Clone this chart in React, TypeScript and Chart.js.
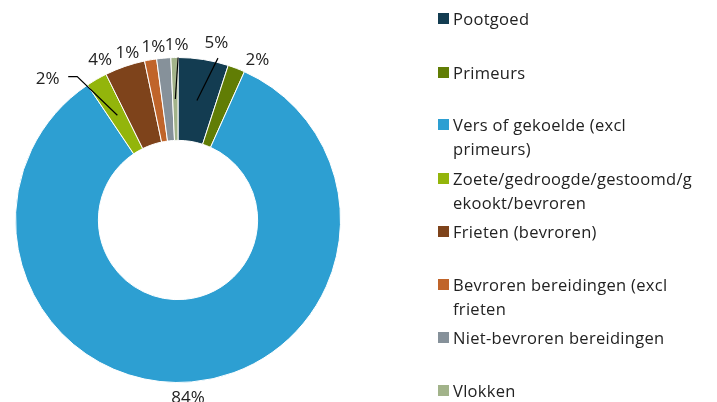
import React, { useEffect, useRef } from 'react';
import { Chart, registerables } from 'chart.js';

Chart.register(...registerables);

const categories = [
  'Pootgoed',
  'Primeurs',
  'Vers of gekoelde (excl primeurs)',
  'Zoete/gedroogde/gestoomd/gekookt/bevroren',
  'Frieten (bevroren)',
  'Bevroren bereidingen (excl frieten',
  'Niet-bevroren bereidingen',
  'Vlokken',
];
const values = [5.0, 1.7, 83.9, 2.1, 4.0, 1.2, 1.4, 0.7];
const percentLabels = ['5%', '2%', '84%', '2%', '4%', '1%', '1%', '1%'];
const legendLines = [
  ['Pootgoed'],
  ['Primeurs'],
  ['Vers of gekoelde (excl', 'primeurs)'],
  ['Zoete/gedroogde/gestoomd/g', 'ekookt/bevroren'],
  ['Frieten (bevroren)'],
  ['Bevroren bereidingen (excl', 'frieten'],
  ['Niet-bevroren bereidingen'],
  ['Vlokken'],
];
const colors = ['#133C51', '#617D05', '#2D9FD2', '#93B50B', '#7E431B', '#C0642A', '#86919A', '#A2B38A'];

// label placement: angular shift (deg) from slice middle, extra distance beyond outer radius, leader type
const labelPlacement = [
  { shift: 3.2, extra: 19.5, leader: 'up', lx: 1.5, ly: 16 },
  { shift: 5.2, extra: 17, leader: 'none', lx: 0, ly: 0 },
  { shift: 1.6, extra: 15, leader: 'none', lx: 0, ly: 0 },
  { shift: -12.4, extra: 30.5, leader: 'side', lx: 20.5, ly: -1 },
  { shift: -6.7, extra: 16.5, leader: 'none', lx: 0, ly: 0 },
  { shift: -7.0, extra: 13, leader: 'none', lx: 0, ly: 0 },
  { shift: -3.0, extra: 13.5, leader: 'none', lx: 0, ly: 0 },
  { shift: 0.8, extra: 13.5, leader: 'up', lx: 1.5, ly: 13.5 },
];
const legendCenters = [19, 73, 125, 179, 232, 285, 338, 391];

const FONT = '"Open Sans", sans-serif';

const pctPlugin = {
  id: 'pctLabels',
  afterDatasetsDraw(chart: any) {
    const ctx = chart.ctx;
    const meta = chart.getDatasetMeta(0);
    ctx.save();
    ctx.font = `17px ${FONT}`;
    ctx.fillStyle = '#222';
    ctx.strokeStyle = '#000';
    ctx.lineWidth = 1.2;
    ctx.textAlign = 'center';
    ctx.textBaseline = 'alphabetic';
    meta.data.forEach((arc: any, i: number) => {
      const p = arc.getProps(['x', 'y', 'startAngle', 'endAngle', 'innerRadius', 'outerRadius'], true);
      const mid = (p.startAngle + p.endAngle) / 2;
      const pl = labelPlacement[i];
      const a = mid + (pl.shift * Math.PI) / 180;
      const r = p.outerRadius + pl.extra;
      const cx = p.x + Math.cos(a) * r;
      const cy = p.y + Math.sin(a) * r;
      const rm = (p.innerRadius + p.outerRadius) / 2;
      const sx = p.x + Math.cos(mid) * rm;
      const sy = p.y + Math.sin(mid) * rm;
      if (pl.leader === 'up') {
        ctx.beginPath();
        ctx.moveTo(sx, sy);
        ctx.lineTo(cx + pl.lx, cy + pl.ly);
        ctx.stroke();
      } else if (pl.leader === 'side') {
        ctx.beginPath();
        ctx.moveTo(cx + pl.lx, cy + pl.ly);
        ctx.lineTo(cx + pl.lx + 9, cy + pl.ly);
        ctx.lineTo(sx, sy);
        ctx.stroke();
      }
      ctx.fillText(percentLabels[i], cx, cy + 6);
    });
    ctx.restore();
  },
};

export default function App() {
  const ref = useRef<HTMLCanvasElement>(null);
  useEffect(() => {
    if (!ref.current) return;
    const chart = new Chart(ref.current, {
      type: 'doughnut',
      data: {
        labels: categories,
        datasets: [
          {
            data: values,
            backgroundColor: colors,
            borderColor: '#ffffff',
            borderWidth: 1,
          },
        ],
      },
      options: {
        responsive: false,
        maintainAspectRatio: false,
        animation: false,
        devicePixelRatio: 1,
        cutout: '49%',
        layout: { padding: { left: 15, top: 57, right: 376, bottom: 19 } },
        plugins: {
          legend: { display: false },
          tooltip: { enabled: false },
        },
      },
      plugins: [pctPlugin],
    });
    return () => chart.destroy();
  }, []);

  return (
    <div
      style={{
        position: 'absolute',
        left: 0,
        top: 0,
        width: 717,
        height: 402,
        overflow: 'hidden',
        background: '#fff',
        fontFamily: FONT,
      }}
    >
      <canvas ref={ref} width={717} height={402} style={{ position: 'absolute', left: 0, top: 0 }} />
      {legendLines.map((lines, i) => (
        <div key={i}>
          <div
            style={{
              position: 'absolute',
              left: 438,
              top: legendCenters[i] - 6,
              width: 11,
              height: 11,
              background: colors[i],
            }}
          />
          <div
            style={{
              position: 'absolute',
              left: 453,
              top: legendCenters[i] - 12,
              fontSize: 16.5,
              letterSpacing: '0.3px',
              lineHeight: '24px',
              color: '#222',
              whiteSpace: 'nowrap',
            }}
          >
            {lines.map((l, j) => (
              <div key={j}>{l}</div>
            ))}
          </div>
        </div>
      ))}
    </div>
  );
}
